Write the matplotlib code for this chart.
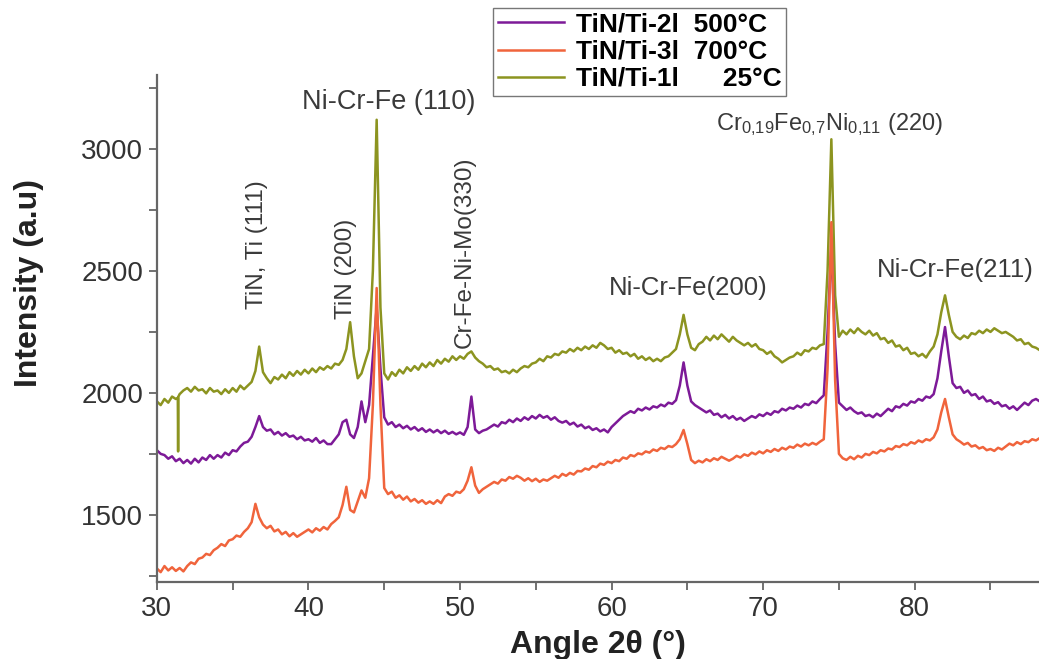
import numpy as np
import matplotlib
matplotlib.use("Agg")
import matplotlib.pyplot as plt

plt.rcParams['font.family'] = ['Liberation Sans', 'DejaVu Sans']
plt.rcParams['mathtext.fontset'] = 'custom'
plt.rcParams['mathtext.rm'] = 'Liberation Sans'
plt.rcParams['mathtext.it'] = 'Liberation Sans'
plt.rcParams['mathtext.default'] = 'regular'

# 2-theta scan grid (step 0.25 deg)
angle_start, angle_step, n_points = 30.0, 0.25, 236
angle = angle_start + angle_step * np.arange(n_points)

# TiN/Ti-1l 25 C (olive)
green = [
    1965, 1950, 1975, 1960,   # 30
    1985, 1975, 1995, 2010,   # 31
    2020, 2005, 2025, 2010,   # 32
    2015, 1998, 2020, 2005,   # 33
    2010, 1995, 2015, 2000,   # 34
    2020, 2005, 2030, 2015,   # 35
    2030, 2045, 2090, 2190,   # 36
    2085, 2060, 2040, 2065,   # 37
    2055, 2075, 2060, 2085,   # 38
    2070, 2090, 2075, 2095,   # 39
    2080, 2100, 2085, 2105,   # 40
    2095, 2110, 2100, 2120,   # 41
    2115, 2135, 2180, 2290,   # 42
    2150, 2060, 2080, 2130,   # 43
    2180, 2500, 3120, 2350,   # 44
    2080, 2055, 2085, 2070,   # 45
    2095, 2080, 2105, 2090,   # 46
    2110, 2095, 2120, 2105,   # 47
    2125, 2110, 2135, 2120,   # 48
    2140, 2128, 2150, 2135,   # 49
    2150, 2140, 2160, 2170,   # 50
    2145, 2130, 2120, 2105,   # 51
    2110, 2095, 2100, 2085,   # 52
    2090, 2080, 2095, 2085,   # 53
    2100, 2110, 2105, 2120,   # 54
    2125, 2140, 2130, 2150,   # 55
    2145, 2160, 2155, 2170,   # 56
    2165, 2180, 2170, 2185,   # 57
    2175, 2190, 2180, 2195,   # 58
    2185, 2205, 2195, 2180,   # 59
    2185, 2165, 2175, 2160,   # 60
    2165, 2150, 2160, 2140,   # 61
    2150, 2135, 2145, 2130,   # 62
    2140, 2130, 2145, 2150,   # 63
    2165, 2180, 2240, 2320,   # 64
    2240, 2185, 2175, 2200,   # 65
    2210, 2230, 2215, 2235,   # 66
    2220, 2240, 2225, 2210,   # 67
    2230, 2215, 2205, 2195,   # 68
    2205, 2190, 2200, 2180,   # 69
    2175, 2160, 2170, 2150,   # 70
    2140, 2125, 2135, 2145,   # 71
    2150, 2165, 2155, 2175,   # 72
    2170, 2185, 2180, 2195,   # 73
    2200, 2500, 3040, 2400,   # 74
    2230, 2255, 2240, 2260,   # 75
    2245, 2265, 2250, 2240,   # 76
    2255, 2235, 2245, 2220,   # 77
    2225, 2205, 2215, 2190,   # 78
    2195, 2175, 2185, 2160,   # 79
    2165, 2150, 2160, 2145,   # 80
    2170, 2190, 2240, 2330,   # 81
    2400, 2320, 2250, 2230,   # 82
    2220, 2235, 2225, 2245,   # 83
    2240, 2255, 2245, 2260,   # 84
    2250, 2265, 2255, 2245,   # 85
    2250, 2240, 2230, 2215,   # 86
    2220, 2200, 2205, 2190,   # 87
    2185, 2175, 2180, 2170,   # 88
]
# instrument glitch in the 25 C scan
glitch_angle = [31.38, 31.40, 31.42]
glitch_value = [1980, 1760, 1985]

# TiN/Ti-2l 500 C (purple)
purple = [
    1765, 1750, 1745, 1730,   # 30
    1740, 1720, 1730, 1712,   # 31
    1725, 1710, 1730, 1715,   # 32
    1735, 1725, 1745, 1730,   # 33
    1745, 1735, 1755, 1745,   # 34
    1765, 1760, 1780, 1795,   # 35
    1800, 1820, 1860, 1905,   # 36
    1860, 1845, 1850, 1830,   # 37
    1840, 1825, 1835, 1820,   # 38
    1825, 1810, 1820, 1805,   # 39
    1810, 1800, 1815, 1795,   # 40
    1805, 1790, 1790, 1810,   # 41
    1830, 1880, 1890, 1830,   # 42
    1815, 1860, 1965, 1880,   # 43
    1950, 2150, 2350, 2100,   # 44
    1900, 1870, 1880, 1860,   # 45
    1870, 1855, 1865, 1850,   # 46
    1860, 1845, 1855, 1840,   # 47
    1850, 1838, 1848, 1835,   # 48
    1845, 1832, 1840, 1830,   # 49
    1838, 1828, 1860, 1985,   # 50
    1850, 1835, 1845, 1850,   # 51
    1860, 1870, 1862, 1880,   # 52
    1875, 1890, 1880, 1895,   # 53
    1885, 1900, 1890, 1905,   # 54
    1895, 1910, 1898, 1905,   # 55
    1890, 1900, 1885, 1878,   # 56
    1885, 1870, 1878, 1862,   # 57
    1870, 1855, 1862, 1848,   # 58
    1855, 1842, 1850, 1838,   # 59
    1860, 1875, 1890, 1905,   # 60
    1915, 1925, 1918, 1935,   # 61
    1928, 1940, 1932, 1945,   # 62
    1940, 1952, 1945, 1960,   # 63
    1955, 1970, 2030, 2125,   # 64
    2030, 1965, 1950, 1940,   # 65
    1930, 1920, 1928, 1910,   # 66
    1915, 1900, 1910, 1895,   # 67
    1905, 1890, 1898, 1885,   # 68
    1895, 1905, 1898, 1912,   # 69
    1905, 1918, 1910, 1925,   # 70
    1920, 1935, 1928, 1940,   # 71
    1935, 1948, 1940, 1955,   # 72
    1950, 1965, 1958, 1975,   # 73
    1990, 2250, 2600, 2200,   # 74
    1960, 1945, 1930, 1940,   # 75
    1925, 1915, 1920, 1905,   # 76
    1910, 1900, 1915, 1905,   # 77
    1920, 1935, 1925, 1945,   # 78
    1940, 1955, 1948, 1965,   # 79
    1960, 1975, 1968, 1985,   # 80
    1980, 1995, 2060, 2170,   # 81
    2270, 2150, 2040, 2020,   # 82
    2025, 2000, 2010, 1990,   # 83
    1995, 1975, 1985, 1965,   # 84
    1970, 1955, 1962, 1945,   # 85
    1950, 1935, 1945, 1930,   # 86
    1945, 1960, 1950, 1968,   # 87
    1975, 1965, 1980, 1975,   # 88
]

# TiN/Ti-3l 700 C (red)
red = [
    1280, 1265, 1290, 1272,   # 30
    1285, 1270, 1282, 1268,   # 31
    1290, 1305, 1298, 1320,   # 32
    1325, 1340, 1335, 1355,   # 33
    1365, 1380, 1372, 1395,   # 34
    1400, 1415, 1410, 1430,   # 35
    1445, 1470, 1545, 1490,   # 36
    1460, 1445, 1455, 1432,   # 37
    1440, 1420, 1430, 1412,   # 38
    1425, 1410, 1420, 1430,   # 39
    1440, 1428, 1445, 1435,   # 40
    1450, 1440, 1462, 1475,   # 41
    1490, 1540, 1615, 1520,   # 42
    1510, 1555, 1600, 1570,   # 43
    1650, 1950, 2430, 1950,   # 44
    1610, 1585, 1595, 1570,   # 45
    1580, 1562, 1575, 1555,   # 46
    1565, 1550, 1560, 1545,   # 47
    1555, 1545, 1560, 1548,   # 48
    1575, 1585, 1578, 1595,   # 49
    1590, 1605, 1640, 1695,   # 50
    1620, 1590, 1605, 1615,   # 51
    1625, 1635, 1628, 1645,   # 52
    1640, 1655, 1648, 1660,   # 53
    1652, 1640, 1650, 1638,   # 54
    1648, 1635, 1645, 1640,   # 55
    1650, 1660, 1652, 1668,   # 56
    1660, 1672, 1665, 1680,   # 57
    1678, 1690, 1685, 1700,   # 58
    1695, 1710, 1705, 1718,   # 59
    1712, 1725, 1720, 1735,   # 60
    1730, 1745, 1740, 1752,   # 61
    1748, 1760, 1755, 1768,   # 62
    1762, 1775, 1770, 1782,   # 63
    1778, 1790, 1810, 1848,   # 64
    1790, 1725, 1712, 1722,   # 65
    1715, 1728, 1720, 1732,   # 66
    1725, 1738, 1730, 1722,   # 67
    1730, 1742, 1735, 1748,   # 68
    1742, 1755, 1748, 1760,   # 69
    1752, 1765, 1758, 1770,   # 70
    1762, 1775, 1768, 1780,   # 71
    1775, 1788, 1780, 1792,   # 72
    1785, 1795, 1788, 1800,   # 73
    1810, 2100, 2700, 2050,   # 74
    1750, 1732, 1725, 1738,   # 75
    1728, 1742, 1735, 1750,   # 76
    1745, 1758, 1752, 1765,   # 77
    1760, 1772, 1768, 1782,   # 78
    1778, 1790, 1785, 1798,   # 79
    1792, 1805, 1798, 1810,   # 80
    1805, 1818, 1850, 1920,   # 81
    1975, 1900, 1830, 1810,   # 82
    1800, 1788, 1795, 1780,   # 83
    1785, 1772, 1778, 1765,   # 84
    1770, 1762, 1775, 1768,   # 85
    1780, 1792, 1785, 1798,   # 86
    1790, 1802, 1798, 1810,   # 87
    1805, 1815, 1808, 1812,   # 88
]

labels = ["TiN/Ti-2l  500°C", "TiN/Ti-3l  700°C", "TiN/Ti-1l  \u2007\u200725°C"]
colors = {"green": "#8c9420", "purple": "#7d1a98", "red": "#f0643c"}

# peak annotations: text, x, y, rotation, size
peak_text = ["TiN, Ti (111)", "TiN (200)", "Ni-Cr-Fe (110)", "Cr-Fe-Ni-Mo(330)",
             "Ni-Cr-Fe(200)", r"Cr$_{0{,}19}$Fe$_{0{,}7}$Ni$_{0{,}11}$ (220)", "Ni-Cr-Fe(211)"]
peak_x = [36.6, 42.5, 45.3, 50.3, 65.05, 74.4, 82.7]
peak_y = [2607, 2508, 3193, 2575, 2430, 3100, 2504]
peak_rot = [90, 90, 0, 90, 0, 0, 0]
peak_size = [17.5, 17.5, 19.5, 17.5, 18.5, 17, 18.5]

fig = plt.figure(figsize=(10.39, 6.59), dpi=100)
ax = fig.add_axes([0.151, 0.117, 0.849, 0.769])

# green with glitch inserted
idx = np.searchsorted(angle, glitch_angle[0])
g_x = np.insert(angle, idx, glitch_angle)
g_y = np.insert(np.array(green, float), idx, glitch_value)

lg, = ax.plot(g_x, g_y, color=colors["green"], lw=1.8)
lp, = ax.plot(angle, purple, color=colors["purple"], lw=1.8)
lr, = ax.plot(angle, red, color=colors["red"], lw=1.8)

ax.set_xlim(30, 88.2)
ax.set_ylim(1225, 3303)
ax.set_xticks([30, 40, 50, 60, 70, 80])
ax.set_xticks([35, 45, 55, 65, 75, 85], minor=True)
ax.set_yticks([1500, 2000, 2500, 3000])
ax.set_yticks([1250, 1750, 2250, 2750, 3250], minor=True)
for s in ["top", "right"]:
    ax.spines[s].set_visible(False)
for s in ["left", "bottom"]:
    ax.spines[s].set_color("#666666")
    ax.spines[s].set_linewidth(1.6)
ax.tick_params(which="both", direction="out", length=6, width=1.3, color="#666666",
               labelsize=20, labelcolor="#333333", pad=4)

ax.set_xlabel("Angle 2θ (°)", fontsize=23, fontweight="bold", color="#222222")
ax.xaxis.set_label_coords(0.50, -0.095)
ax.set_ylabel("Intensity (a.u)", fontsize=23, fontweight="bold", color="#222222")
ax.yaxis.set_label_coords(-0.128, 0.59)

for t, x, y, r, s in zip(peak_text, peak_x, peak_y, peak_rot, peak_size):
    ax.text(x, y, t, rotation=r, ha="center", va="center", fontsize=s, color="#3a3a3a")

leg = fig.legend([lp, lr, lg], labels, loc="upper left", bbox_to_anchor=(0.4745, 0.988),
                 prop={"weight": "bold", "size": 19, "family": ["Liberation Sans", "DejaVu Sans"]},
                 frameon=True, fancybox=False, framealpha=1, edgecolor="#777777",
                 handlelength=2.5, handletextpad=0.45, labelspacing=0.12, borderpad=0.18,
                 borderaxespad=0)
leg.get_frame().set_linewidth(1.0)

fig.savefig("out.png", dpi=100)
